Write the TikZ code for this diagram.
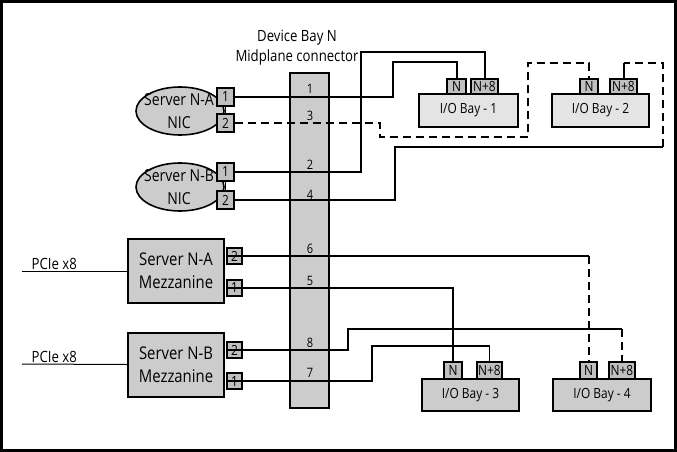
\documentclass[tikz,border=0pt]{standalone}
\usepackage{fontspec}
\setmainfont{Open Sans}[FakeStretch=0.85]
\usetikzlibrary{shapes.geometric}

\definecolor{boxgray}{RGB}{204,204,204}
\definecolor{lightbox}{RGB}{228,228,228}
\definecolor{portgray}{RGB}{192,192,192}

\tikzset{
  link/.style={line width=2pt},
  thinlink/.style={line width=1.5pt},
  optlink/.style={line width=2pt,dash pattern=on 8pt off 5pt},
  port/.style={draw,line width=1.4pt,fill=portgray,inner sep=0pt,
    minimum width=17pt,minimum height=18pt,font=\fontsize{14}{14}\selectfont},
  ioport/.style={draw,line width=1.4pt,fill=portgray,inner sep=0pt,
    minimum height=15pt,font=\fontsize{14}{14}\selectfont},
  iobay/.style={draw,line width=2pt,inner sep=0pt,minimum height=33pt,
    font=\fontsize{14}{14}\selectfont},
  nic/.style={ellipse,draw,line width=1.6pt,fill=boxgray,inner sep=0pt,
    minimum width=88pt,minimum height=48pt},
  nictext/.style={inner sep=0pt,align=center,font=\fontsize{16.5}{23}\selectfont},
  mezz/.style={draw,line width=2pt,fill=boxgray,inner sep=0pt,
    minimum width=96pt,minimum height=64pt,align=center,
    font=\fontsize{17.5}{23}\selectfont},
  pin/.style={inner sep=0pt,font=\fontsize{13}{13}\selectfont}
}

\begin{document}
\begin{tikzpicture}[x=1pt,y=-1pt]
  \useasboundingbox (0,0) rectangle (677,452);
  \draw[line width=3pt] (1.5,1.5) rectangle (675.5,450.5);

  % midplane connector
  \node[draw,line width=1.6pt,fill=boxgray,minimum width=39pt,minimum height=335pt,inner sep=0pt] (mid) at (309.5,240.5) {};
  \node[align=center,font=\fontsize{15.5}{20}\selectfont] (midlabel) at (297,48) {Device Bay N\\Midplane connector};

  % NICs
  \node[nic] (nicA) at (180,111) {};
  \node[nic] (nicB) at (180,187) {};
  \node[port] (nicA1) at (225.5,97) {1};
  \node[port] (nicA2) at (225.5,123) {2};
  \node[port] (nicB1) at (225.5,172) {1};
  \node[port] (nicB2) at (225.5,200) {2};
  \draw[line width=1.3pt] (nicA1) -- (nicA2);
  \draw[line width=1.3pt] (nicB1) -- (nicB2);
  \node[nictext] (nicAtext) at (179,111.5) {Server N-A\\NIC};
  \node[nictext] (nicBtext) at (179,187.5) {Server N-B\\NIC};

  % mezzanines
  \node[mezz] (mzA) at (176,271) {Server N-A\\Mezzanine};
  \node[mezz] (mzB) at (176,364.5) {Server N-B\\Mezzanine};
  \node[port,minimum width=15pt,minimum height=16pt] (mzA2) at (234.5,256) {2};
  \node[port,minimum width=15pt,minimum height=16pt] (mzA1) at (234.5,288) {1};
  \node[port,minimum width=15pt,minimum height=16pt] (mzB2) at (234.5,350) {2};
  \node[port,minimum width=15pt,minimum height=16pt] (mzB1) at (234.5,381) {1};

  % PCIe
  \coordinate (pcieA) at (22,271);
  \coordinate (pcieB) at (22,364);
  \draw[line width=1pt] (pcieA) -- (mzA.west);
  \draw[line width=1pt] (pcieB) -- (mzB.west);
  \node[above right,inner sep=1.5pt,xshift=8pt,font=\fontsize{15.5}{15.5}\selectfont] (pcieAlabel) at (pcieA) {PCIe x8};
  \node[above right,inner sep=1.5pt,xshift=8pt,font=\fontsize{15.5}{15.5}\selectfont] (pcieBlabel) at (pcieB) {PCIe x8};

  % I/O bays
  \node[iobay,fill=lightbox,minimum width=99pt] (io1) at (468.5,110.5) {I/O Bay - 1};
  \node[iobay,fill=lightbox,minimum width=97pt] (io2) at (600.5,110.5) {I/O Bay - 2};
  \node[iobay,fill=boxgray,minimum width=97pt,minimum height=32pt] (io3) at (470.5,395) {I/O Bay - 3};
  \node[iobay,fill=boxgray,minimum width=98pt,minimum height=32pt] (io4) at (602,395) {I/O Bay - 4};
  \node[ioport,minimum width=19pt] (io1N) at (456.5,86.5) {N};
  \node[ioport,minimum width=27pt] (io1P) at (484.5,86.5) {N+8};
  \node[ioport,minimum width=18pt] (io2N) at (589,86.5) {N};
  \node[ioport,minimum width=27pt] (io2P) at (623.5,86.5) {N+8};
  \node[ioport,minimum width=18pt,minimum height=17pt] (io3N) at (453,370.5) {N};
  \node[ioport,minimum width=25pt,minimum height=17pt] (io3P) at (489.5,370.5) {N+8};
  \node[ioport,minimum width=17pt,minimum height=17pt] (io4N) at (588.5,370.5) {N};
  \node[ioport,minimum width=26pt,minimum height=17pt] (io4P) at (622,370.5) {N+8};

  % bends
  \coordinate (b1) at (393,62);
  \coordinate (b2) at (361,52);
  \coordinate (b3a) at (380,137);
  \coordinate (b3b) at (528,63);
  \coordinate (b4a) at (395,147);
  \coordinate (b4b) at (663,147);
  \coordinate (b4c) at (io2P.north |- 0,63);
  \coordinate (b6) at (io4N.north |- mzA2.west);
  \coordinate (b8a) at (348,329);
  \coordinate (b8b) at (io4P.north |- b8a);
  \coordinate (b7) at (372,346);

  % links
  \draw[link] (nicA1.east) -| (b1) -| (io1N.north);
  \draw[link] (nicB1.east) -| (b2) -| (io1P.north);
  \draw[optlink] (nicA2.east) -| (b3a) -| (b3b) -| (io2N.north);
  \draw[link] (nicB2.east) -| (b4a) -- (b4b);
  \draw[optlink] (b4b) |- (b4c);
  \draw[link] (b4c) -- (io2P.north);
  \draw[thinlink] (mzA1.west) -| (io3N.north);
  \draw[link] (mzA2.west) -- (b6);
  \draw[optlink] (b6) -- (io4N.north);
  \draw[link] (mzB2.west) -| (b8a) -- (b8b);
  \draw[optlink] (b8b) -- (io4P.north);
  \draw[thinlink] (mzB1.west) -| (b7) -| (io3P.north);

  % pin numbers
  \node[pin] (p1) at (310,89) {1};
  \node[pin] (p3) at (310,116) {3};
  \node[pin] (p2) at (310,165) {2};
  \node[pin] (p4) at (310,195) {4};
  \node[pin] (p6) at (310,249) {6};
  \node[pin] (p5) at (310,281) {5};
  \node[pin] (p8) at (310,343) {8};
  \node[pin] (p7) at (310,373) {7};
\end{tikzpicture}
\end{document}
